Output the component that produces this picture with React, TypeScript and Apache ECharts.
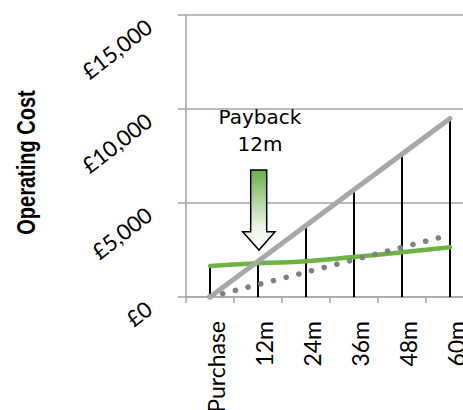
import React, { useEffect, useRef } from "react";
import * as echarts from "echarts";

const categories = ["Purchase", "12m", "24m", "36m", "48m", "60m"];
const savingValues = [0, 1900, 3800, 5700, 7600, 9500];
const operatingValues = [1650, 1800, 1900, 2130, 2380, 2650];
const alternativeValues = [0, 660, 1320, 1980, 2640, 3300];
const yTicks = [0, 5000, 10000, 15000];
const yAxisTitle = "Operating Cost";
const annotationText = "Payback\n12m";

export default function App() {
  const ref = useRef<HTMLDivElement>(null);
  useEffect(() => {
    if (!ref.current) return;
    const chart = echarts.init(ref.current, null, { renderer: "svg" });
    const dropValues = categories.map((_, i) =>
      Math.max(savingValues[i], operatingValues[i], alternativeValues[i])
    );
    const gray = "#a6a6a6";
    const labelFont = "Lato, 'Open Sans', sans-serif";
    chart.setOption({
      animation: false,
      backgroundColor: "#ffffff",
      grid: {
        left: 186,
        right: -11,
        top: 15,
        bottom: 113,
        containLabel: false,
        outerBoundsMode: "none",
      },
      xAxis: {
        type: "category",
        data: categories,
        boundaryGap: true,
        axisLine: { show: true, lineStyle: { color: gray, width: 1.5 } },
        axisTick: { show: true, length: 6, lineStyle: { color: gray, width: 1.5 } },
        axisLabel: {
          rotate: 90,
          margin: 24,
          fontSize: 23,
          fontFamily: labelFont,
          color: "#000",
          verticalAlign: "top",
          lineHeight: 12,
          interval: 0,
        },
      },
      yAxis: {
        type: "value",
        min: yTicks[0],
        max: yTicks[yTicks.length - 1],
        interval: yTicks[1] - yTicks[0],
        axisLine: { show: true, lineStyle: { color: gray, width: 1.5 } },
        axisTick: { show: true, length: 8, lineStyle: { color: gray, width: 1.5 } },
        splitLine: { show: true, lineStyle: { color: gray, width: 1.5 } },
        axisLabel: {
          rotate: 38,
          margin: 44,
          fontSize: 22,
          fontFamily: labelFont,
          color: "#000",
          align: "right",
          verticalAlign: "top",
          lineHeight: 22,
          formatter: (v: number) => "£" + v.toLocaleString("en-GB"),
        },
      },
      series: [
        {
          name: "Drop lines",
          type: "bar",
          data: dropValues,
          barWidth: 2,
          itemStyle: { color: "#000" },
          z: 1,
        },
        {
          name: "Operating cost",
          type: "line",
          data: operatingValues,
          smooth: true,
          symbol: "none",
          lineStyle: { color: "#6db33f", width: 4.5, cap: "round" },
          z: 3,
        },
        {
          name: "Alternative",
          type: "line",
          data: alternativeValues,
          symbol: "none",
          lineStyle: { color: "#808080", width: 5.5, type: [0.1, 13], cap: "round" },
          z: 3,
        },
        {
          name: "Saving",
          type: "line",
          data: savingValues,
          symbol: "none",
          lineStyle: { color: "#a8a8a8", width: 5, cap: "round" },
          z: 4,
        },
      ],
      graphic: [
        {
          type: "text",
          x: 27,
          y: 162.5,
          rotation: Math.PI / 2,
          scaleX: 0.8,
          style: {
            text: yAxisTitle,
            fill: "#000",
            font: "bold 25px 'Liberation Sans', Arial, sans-serif",
            textAlign: "center",
            textVerticalAlign: "middle",
          },
        },
        {
          type: "polygon",
          z: 100,
          shape: {
            points: [
              [250.7, 170],
              [266.7, 170],
              [266.7, 231.7],
              [275, 231.7],
              [259, 250],
              [242.7, 231.7],
              [250.7, 231.7],
            ],
          },
          style: {
            fill: new echarts.graphic.LinearGradient(0, 0, 0, 1, [
              { offset: 0, color: "#68b045" },
              { offset: 0.7, color: "#eaf4e4" },
              { offset: 1, color: "#ffffff" },
            ]),
            stroke: "#000",
            lineWidth: 1.5,
          },
        },
        {
          type: "text",
          z: 100,
          x: 260,
          y: 103,
          style: {
            text: annotationText,
            fill: "#000",
            font: "20px 'DejaVu Sans', sans-serif",
            textAlign: "center",
            textVerticalAlign: "top",
            lineHeight: 27,
          },
        },
      ],
    });
    return () => chart.dispose();
  }, []);
  return (
    <div
      ref={ref}
      style={{ position: "fixed", left: 0, top: 0, width: 463, height: 410 }}
    />
  );
}
